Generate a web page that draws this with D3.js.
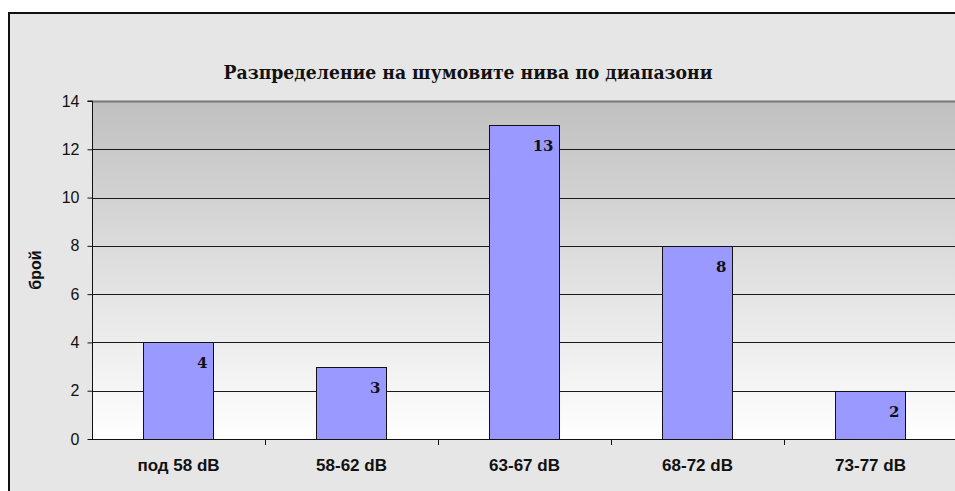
<!DOCTYPE html>
<html>
<head>
<meta charset="utf-8">
<script src="https://cdn.jsdelivr.net/npm/d3@7"></script>
<style>
  body { margin: 0; background: #fff; }
  svg { display: block; }
</style>
</head>
<body>
<svg id="chart"></svg>
<script>
const categories = ["под 58 dB", "58-62 dB", "63-67 dB", "68-72 dB", "73-77 dB"];
const counts = [4, 3, 13, 8, 2];
const yTicks = [0, 2, 4, 6, 8, 10, 12, 14];
const title = "Разпределение на шумовите нива по диапазони";
const yTitle = "брой";

const width = 955;
const height = 491;
const plot = { left: 92, top: 101, right: 957, bottom: 439 };

const svg = d3.select("#chart").attr("width", width).attr("height", height);

// outer chart frame
svg.append("rect")
  .attr("x", 9).attr("y", 13)
  .attr("width", width + 10).attr("height", height + 10)
  .attr("fill", "#e6e6e6")
  .attr("stroke", "#111")
  .attr("stroke-width", 2);

const defs = svg.append("defs");
const grad = defs.append("linearGradient")
  .attr("id", "plot-bg")
  .attr("x1", 0).attr("y1", 0).attr("x2", 0).attr("y2", 1);
grad.append("stop").attr("offset", "0%").attr("stop-color", "#c0c0c0");
grad.append("stop").attr("offset", "100%").attr("stop-color", "#ffffff");

const x = d3.scaleBand()
  .domain(categories)
  .range([plot.left, plot.right]);

const y = d3.scaleLinear()
  .domain([0, 14])
  .range([plot.bottom, plot.top]);

// plot background
svg.append("rect")
  .attr("x", plot.left).attr("y", plot.top)
  .attr("width", plot.right - plot.left)
  .attr("height", plot.bottom - plot.top)
  .attr("fill", "url(#plot-bg)");

// gridlines
svg.append("g")
  .selectAll("line")
  .data(yTicks.filter(d => d > 0))
  .enter()
  .append("line")
  .attr("x1", plot.left).attr("x2", plot.right)
  .attr("y1", d => Math.round(y(d)) + 0.5)
  .attr("y2", d => Math.round(y(d)) + 0.5)
  .attr("stroke", d => d === 14 ? "#777" : "#1a1a1a")
  .attr("stroke-width", d => d === 14 ? 2 : 1);

// bars
const barW = x.bandwidth() * 0.405;
svg.append("g")
  .selectAll("rect")
  .data(counts)
  .enter()
  .append("rect")
  .attr("x", (d, i) => Math.round(x(categories[i]) + (x.bandwidth() - barW) / 2) + 0.5)
  .attr("y", d => Math.round(y(d)) + 0.5)
  .attr("width", Math.round(barW))
  .attr("height", d => Math.round(y(0)) - Math.round(y(d)))
  .attr("fill", "#9999ff")
  .attr("stroke", "#111")
  .attr("stroke-width", 1);

// value labels
svg.append("g")
  .selectAll("text")
  .data(counts)
  .enter()
  .append("text")
  .attr("x", (d, i) => x(categories[i]) + (x.bandwidth() + barW) / 2 - 6)
  .attr("y", d => y(d) + 26)
  .attr("text-anchor", "end")
  .attr("font-family", "'DejaVu Serif', serif")
  .attr("font-weight", "bold")
  .attr("font-size", "15px")
  .attr("fill", "#111")
  .text(d => d);

// y axis
const yAxis = svg.append("g")
  .attr("transform", `translate(${plot.left + 0.5},0)`)
  .call(d3.axisLeft(y).tickValues(yTicks).tickSize(5).tickPadding(8).tickFormat(d3.format("d")));
yAxis.select(".domain").attr("stroke", "#111").attr("d", `M-5,${y(14)}H0V${y(0)}`);
yAxis.selectAll(".tick line").attr("stroke", "#111");
yAxis.selectAll("text")
  .attr("font-family", "'Liberation Sans', Arial, sans-serif")
  .attr("font-size", "16px")
  .attr("fill", "#111");

// x axis
const xAxis = svg.append("g")
  .attr("transform", `translate(0,${Math.round(plot.bottom) + 0.5})`)
  .call(d3.axisBottom(x).tickSize(0).tickPadding(19));
xAxis.select(".domain").attr("stroke", "#111").attr("d", `M${plot.left},0H${plot.right}`);
xAxis.selectAll("text")
  .attr("font-family", "'Liberation Sans', Arial, sans-serif")
  .attr("font-weight", "bold")
  .attr("font-size", "17px")
  .attr("fill", "#111");

// category separator ticks
svg.append("g")
  .selectAll("line")
  .data(categories.slice(1))
  .enter()
  .append("line")
  .attr("x1", d => Math.round(x(d)) + 0.5)
  .attr("x2", d => Math.round(x(d)) + 0.5)
  .attr("y1", plot.bottom)
  .attr("y2", plot.bottom + 6)
  .attr("stroke", "#111");

// axis title
svg.append("text")
  .attr("transform", `translate(41,${(plot.top + plot.bottom) / 2}) rotate(-90)`)
  .attr("text-anchor", "middle")
  .attr("font-family", "'Liberation Sans', Arial, sans-serif")
  .attr("font-weight", "bold")
  .attr("font-size", "16px")
  .attr("fill", "#111")
  .text(yTitle);

// chart title
svg.append("text")
  .attr("x", 468)
  .attr("y", 79)
  .attr("text-anchor", "middle")
  .attr("font-family", "'DejaVu Serif', serif")
  .attr("font-weight", "bold")
  .attr("font-size", "18px")
  .attr("textLength", 489)
  .attr("lengthAdjust", "spacingAndGlyphs")
  .attr("fill", "#111")
  .text(title);
</script>
</body>
</html>
